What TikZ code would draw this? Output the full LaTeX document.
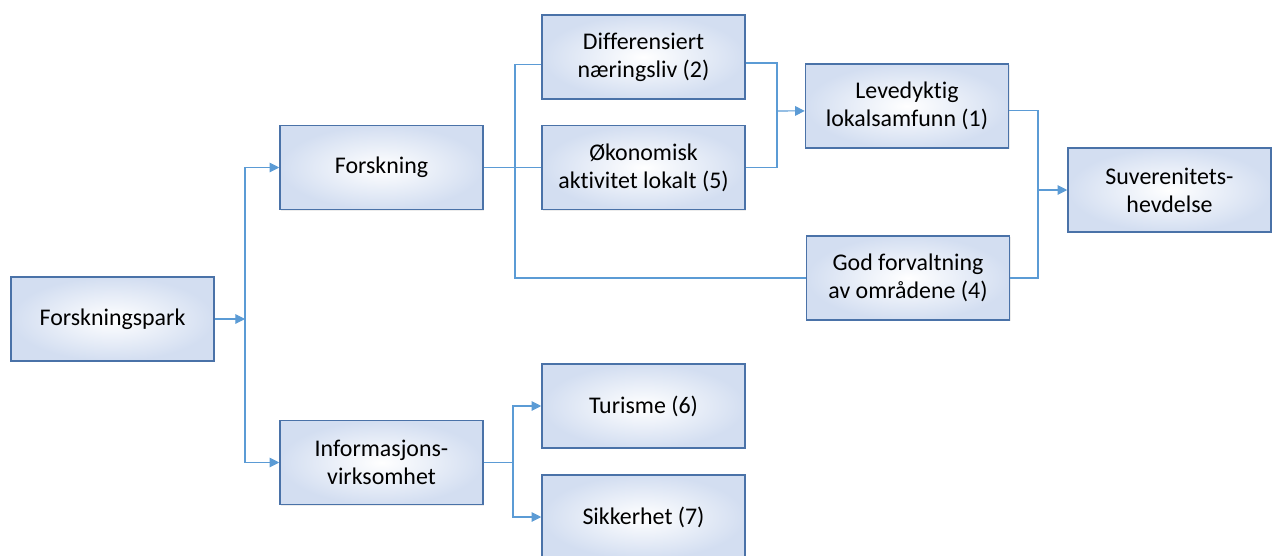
\documentclass[tikz,border=0pt]{standalone}
\usepackage{fontspec}
\setmainfont{Carlito}[Ligatures={NoCommon,NoRare,NoContextual}]
\usepackage{tikz}
\usetikzlibrary{arrows.meta,shadows}
\definecolor{boxedge}{HTML}{4A72A8}
\definecolor{boxfill}{HTML}{D3DEF1}
\definecolor{linkblue}{HTML}{5B9BD5}

\begin{document}
\begin{tikzpicture}[x=0.02cm, y=-0.02cm,
    box/.style={draw=boxedge, line width=0.9pt, inner color=white, outer color=boxfill,
        minimum width=4.06cm, minimum height=1.68cm, align=center, inner sep=2pt,
        font=\fontsize{13.6}{16}\selectfont,
        drop shadow={opacity=0.15, shadow xshift=0.6pt, shadow yshift=-0.6pt}},
    link/.style={draw=linkblue, line width=0.6pt},
    tip/.style={-{Triangle[length=5.5pt, width=5.5pt]}}]
    \useasboundingbox (0,0) rectangle (1272,555);

    % Draw the boxes
    \node[box] (park) at (112.5,319) {Forskningspark};
    \node[box] (forsk) at (381.5,167.5) {Forskning};
    \node[box] (info) at (381.5,462.5) {Informasjons-\\virksomhet};
    \node[box] (diff) at (643.5,57) {Differensiert\\næringsliv (2)};
    \node[box] (okon) at (643.5,167.5) {Økonomisk\\aktivitet lokalt (5)};
    \node[box] (leve) at (907,106) {Levedyktig\\lokalsamfunn (1)};
    \node[box] (god) at (908,278) {God forvaltning\\av områdene (4)};
    \node[box] (suv) at (1169.5,190) {Suverenitets-\\hevdelse};
    \node[box] (tur) at (643.5,406) {Turisme (6)};
    \node[box] (sik) at (643.5,517) {Sikkerhet (7)};

    % Points where the lines split and join
    \coordinate (split1) at (245,319);
    \coordinate (split2) at (515,167.5);
    \coordinate (split3) at (513,462.5);
    \coordinate (join1) at (777,111);
    \coordinate (join2) at (1038,190);

    % Draw the connectors
    \draw[link, tip] (park.east) -- (split1);
    \draw[link, tip] (split1) |- (forsk.west);
    \draw[link, tip] (split1) |- (info.west);

    \draw[link] (forsk.east) -- (okon.west);
    \draw[link] (split2) |- ([yshift=-4pt]diff.west);
    \draw[link] (split2) |- (god.west);

    \draw[link] ([yshift=-3.4pt]diff.east) -| (join1) |- (okon.east);
    \draw[link, tip] (join1) -- ([yshift=-2.8pt]leve.west);

    \draw[link] ([yshift=-2.8pt]leve.east) -| (join2) |- (god.east);
    \draw[link, tip] (join2) -- (suv.west);

    \draw[link] (info.east) -- (split3);
    \draw[link, tip] (split3) |- (tur.west);
    \draw[link, tip] (split3) |- (sik.west);
\end{tikzpicture}
\end{document}
